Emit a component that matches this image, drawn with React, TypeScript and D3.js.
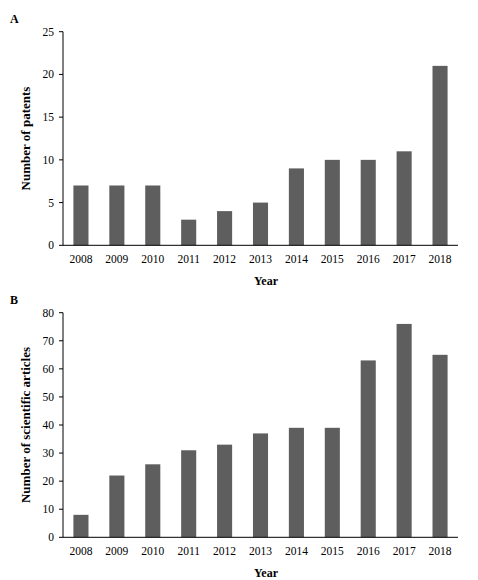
import React from "react";
import * as d3 from "d3";

const years = ["2008", "2009", "2010", "2011", "2012", "2013", "2014", "2015", "2016", "2017", "2018"];
const patents = [7, 7, 7, 3, 4, 5, 9, 10, 10, 11, 21];
const articles = [8, 22, 26, 31, 33, 37, 39, 39, 63, 76, 65];
const patentTicks = [0, 5, 10, 15, 20, 25];
const articleTicks = [0, 10, 20, 30, 40, 50, 60, 70, 80];

const FONT = "'Liberation Serif', 'Times New Roman', serif";
const BAR = "#5e5e5e";

type PanelProps = {
  letter: string;
  label: string;
  values: number[];
  ticks: number[];
  yTop: number;
  yZero: number;
  letterY: number;
};

function Panel({ letter, label, values, ticks, yTop, yZero, letterY }: PanelProps) {
  const x0 = 63;
  const x1 = 458;
  const x = d3.scaleBand<string>().domain(years).range([x0, x1]).paddingInner(0.58).paddingOuter(0.29);
  const y = d3.scaleLinear().domain([0, ticks[ticks.length - 1]]).range([yZero, yTop]);
  return (
    <g fontFamily={FONT} fill="#000">
      <text x={10} y={letterY} fontSize={12} fontWeight="bold">{letter}</text>
      {years.map((yr, i) => (
        <rect key={yr} x={x(yr)} y={y(values[i])} width={x.bandwidth()} height={yZero - y(values[i])} fill={BAR} />
      ))}
      <line x1={x0} x2={x0} y1={yTop} y2={yZero} stroke="#000" strokeWidth={1} />
      <line x1={x0} x2={x1} y1={yZero} y2={yZero} stroke="#000" strokeWidth={1} />
      {ticks.map((t) => (
        <g key={t}>
          <line x1={x0 - 4} x2={x0} y1={y(t)} y2={y(t)} stroke="#000" strokeWidth={1} />
          <text x={54} y={y(t)} dy="0.35em" textAnchor="end" fontSize={11.5}>{t}</text>
        </g>
      ))}
      {years.map((yr) => (
        <text key={yr} x={(x(yr) as number) + x.bandwidth() / 2} y={yZero + 18} textAnchor="middle" fontSize={11.5}>{yr}</text>
      ))}
      <text x={266} y={yZero + 40} textAnchor="middle" fontSize={12} fontWeight="bold">Year</text>
      <text
        transform={`translate(30, ${(yTop + yZero) / 2}) rotate(-90)`}
        textAnchor="middle"
        fontSize={13}
        fontWeight="bold"
      >
        {label}
      </text>
    </g>
  );
}

export default function App() {
  return (
    <svg width={478} height={580} style={{ position: "absolute", left: 0, top: 0, background: "#fff" }}>
      <rect width={478} height={580} fill="#fff" />
      <Panel letter="A" label="Number of patents" values={patents} ticks={patentTicks} yTop={31.7} yZero={245.3} letterY={23} />
      <Panel letter="B" label="Number of scientific articles" values={articles} ticks={articleTicks} yTop={312.7} yZero={537.3} letterY={304} />
    </svg>
  );
}
